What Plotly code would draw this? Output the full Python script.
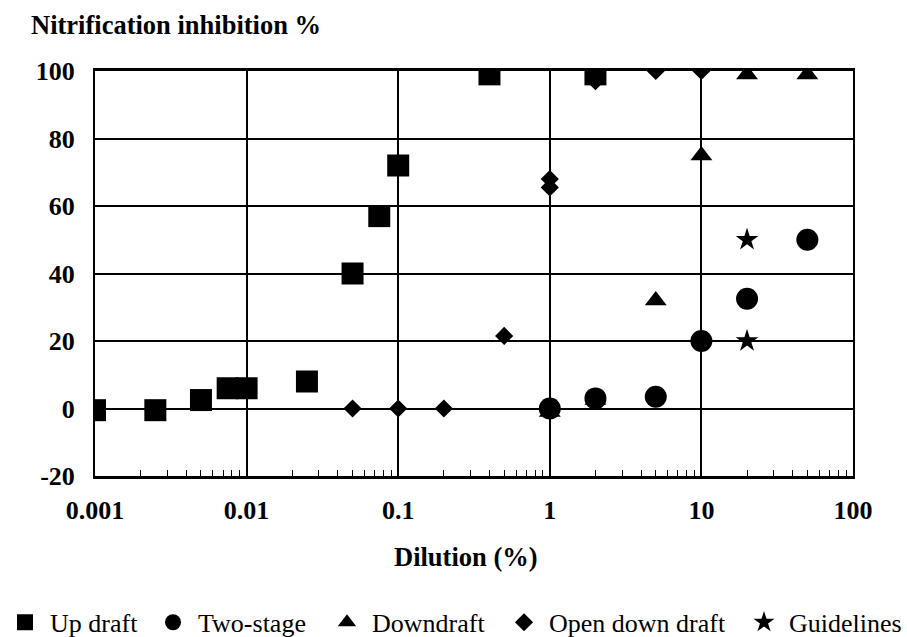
import plotly.graph_objects as go

# ---- data ----
up_x = [0.001, 0.0025, 0.005, 0.0075, 0.01, 0.025, 0.05, 0.075, 0.1, 0.4, 2]
up_y = [-0.5, -0.5, 2.5, 6, 6, 8, 40, 57, 72, 99, 99]

two_x = [1, 2, 5, 10, 20, 50]
two_y = [0, 3, 3.5, 20, 32.5, 50]

down_x = [1, 2, 5, 10, 20, 50]
down_y = [-1, 2.5, 32, 75, 99, 99]

open_x = [0.05, 0.1, 0.2, 0.5, 1, 1, 2, 5, 10]
open_y = [0, 0, 0, 21.5, 65.5, 68, 97, 100, 100]

guide_x = [20, 20]
guide_y = [50, 20]

x_tickvals = [0.001, 0.01, 0.1, 1, 10, 100]
x_ticktext = ["0.001", "0.01", "0.1", "1", "10", "100"]
x_minorvals = [m * 10 ** e for e in range(-3, 2) for m in range(2, 10)]
y_tickvals = [-20, 0, 20, 40, 60, 80, 100]
y_ticktext = ["-20", "0", "20", "40", "60", "80", "100"]

FONT = "Liberation Serif"

fig = go.Figure()
series = [
    ("Up draft", up_x, up_y, "square", 22, "legend"),
    ("Two-stage", two_x, two_y, "circle", 22, "legend2"),
    ("Downdraft", down_x, down_y, "triangle-up", 19, "legend3"),
    ("Open down draft", open_x, open_y, "diamond", 14, "legend4"),
    ("Guidelines", guide_x, guide_y, "star", 17, "legend5"),
]
for name, xs, ys, sym, sz, lg in series:
    fig.add_trace(go.Scatter(
        x=xs, y=ys, mode="markers", name=name, legend=lg,
        marker=dict(symbol=sym, size=sz, color="black", line=dict(width=0)),
        cliponaxis=True,
    ))

legend_x = [-0.0033, 0.1632, 0.355, 0.5502, 0.8148]
legend_common = dict(
    orientation="h", xref="container", yref="container",
    xanchor="left", y=0.023, yanchor="middle",
    font=dict(family=FONT, size=26, color="black"),
    itemsizing="trace", itemwidth=40, bgcolor="rgba(0,0,0,0)",
)
legend_layout = {}
for i, lx in enumerate(legend_x):
    key = "legend" if i == 0 else f"legend{i + 1}"
    legend_layout[key] = dict(legend_common, x=lx)

fig.update_layout(
    width=907, height=637,
    margin=dict(l=95, r=54, t=71, b=161),
    paper_bgcolor="white", plot_bgcolor="white",
    font=dict(family=FONT, color="black"),
    showlegend=True,
    **legend_layout,
)

fig.update_xaxes(
    type="log", range=[-3, 2],
    tickvals=x_tickvals, ticktext=x_ticktext,
    tickfont=dict(family=FONT, size=26, color="black", weight="bold"),
    showgrid=True, gridcolor="black", gridwidth=2,
    showline=True, linecolor="black", linewidth=3, mirror=True,
    ticks="", ticklabelstandoff=9,
    minor=dict(ticks="inside", ticklen=6, tickcolor="black", tickwidth=1,
               tickvals=x_minorvals, showgrid=False),
    zeroline=False,
)
fig.update_yaxes(
    range=[-20, 100], tickvals=y_tickvals, ticktext=y_ticktext,
    tickfont=dict(family=FONT, size=26, color="black", weight="bold"),
    showgrid=True, gridcolor="black", gridwidth=2,
    showline=True, linecolor="black", linewidth=2, mirror=True,
    ticks="", ticklabelstandoff=13,
    zeroline=False,
)

fig.add_annotation(
    text="<b>Nitrification inhibition %</b>", xref="paper", yref="paper",
    x=-0.087, y=1.114, xanchor="left", yanchor="middle", showarrow=False,
    font=dict(family=FONT, size=26.5, color="black"),
)
fig.add_annotation(
    text="<b>Dilution (%)</b>", xref="paper", yref="paper",
    x=0.489, y=-0.2, xanchor="center", yanchor="middle", showarrow=False,
    font=dict(family=FONT, size=26.5, color="black"),
)

fig.write_html("out.html")
